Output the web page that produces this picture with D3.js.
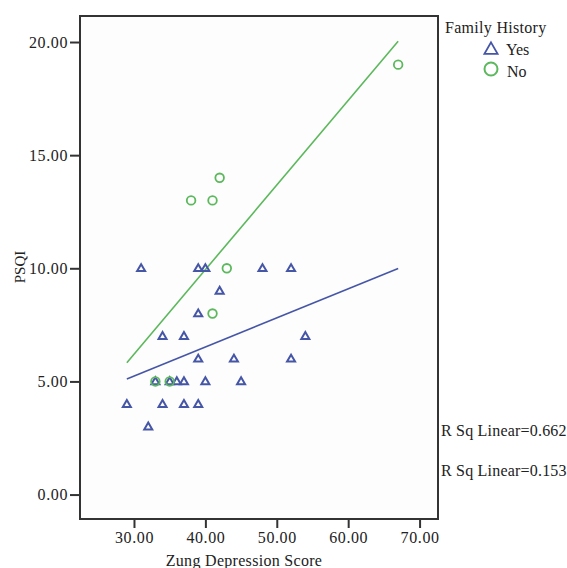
<!DOCTYPE html>
<html>
<head>
<meta charset="utf-8">
<script src="https://cdn.jsdelivr.net/npm/d3@7"></script>
<style>
  body { margin: 0; background: #fff; }
  text { font-family: "Liberation Serif", "DejaVu Serif", serif; fill: #222; }
</style>
</head>
<body>
<svg id="chart" width="567" height="568"></svg>
<script>
// Family History = Yes (triangles)
const yesZung = [31, 39, 40, 48, 52, 42, 39, 34, 37, 54, 39, 44, 52, 33, 35, 36, 37, 40, 45, 29, 34, 37, 39, 32];
const yesPsqi = [10, 10, 10, 10, 10, 9, 8, 7, 7, 7, 6, 6, 6, 5, 5, 5, 5, 5, 5, 4, 4, 4, 4, 3];
// Family History = No (circles)
const noZung = [67, 42, 38, 41, 43, 41, 33, 35];
const noPsqi = [19, 14, 13, 13, 10, 8, 5, 5];

const xTicks = [30, 40, 50, 60, 70];
const yTicks = [0, 5, 10, 15, 20];
const rsqLabels = ["R Sq Linear=0.662", "R Sq Linear=0.153"];

const blue = "#4656a6";
const green = "#5cb85c";

const svg = d3.select("#chart");
const plotL = 80, plotR = 438, plotT = 16, plotB = 519;

const x = d3.scaleLinear().domain([22.44, 72.58]).range([plotL, plotR]);
const y = d3.scaleLinear().domain([-1.08, 21.15]).range([plotB, plotT]);

const yes = yesZung.map((v, i) => ({ x: v, y: yesPsqi[i] }));
const no = noZung.map((v, i) => ({ x: v, y: noPsqi[i] }));

// least squares fit, drawn across the full x range of all points
const xExt = d3.extent(yesZung.concat(noZung));
function fitLine(pts) {
    const mx = d3.mean(pts, d => d.x), my = d3.mean(pts, d => d.y);
    let sxy = 0, sxx = 0;
    pts.forEach(d => { sxy += (d.x - mx) * (d.y - my); sxx += (d.x - mx) ** 2; });
    const b = sxy / sxx;
    return xExt.map(v => ({ x: v, y: my + b * (v - mx) }));
}

// frame
svg.append("rect")
    .attr("x", plotL).attr("y", plotT)
    .attr("width", plotR - plotL).attr("height", plotB - plotT)
    .attr("fill", "#fdfdfd")
    .attr("stroke", "#333").attr("stroke-width", 2);

// axes
const yAxis = svg.append("g")
    .attr("transform", `translate(${plotL},0)`)
    .call(d3.axisLeft(y).tickValues(yTicks).tickFormat(d3.format(".2f")).tickSize(10).tickPadding(2));
const xAxis = svg.append("g")
    .attr("transform", `translate(0,${plotB})`)
    .call(d3.axisBottom(x).tickValues(xTicks).tickFormat(d3.format(".2f")).tickSize(9).tickPadding(4));
[yAxis, xAxis].forEach(g => {
    g.select(".domain").remove();
    g.selectAll(".tick line").attr("stroke", "#333").attr("stroke-width", 2);
    g.selectAll(".tick text")
        .attr("fill", "#222")
        .style("font-family", '"Liberation Serif", serif')
        .style("font-size", "16px")
        .style("letter-spacing", "0.6px");
});

// axis titles
svg.append("text")
    .attr("transform", "translate(25,267) rotate(-90)")
    .attr("text-anchor", "middle")
    .style("font-size", "15px")
    .text("PSQI");
svg.append("text")
    .attr("x", 244).attr("y", 566)
    .attr("text-anchor", "middle")
    .style("font-size", "16px")
    .style("letter-spacing", "0.3px")
    .text("Zung Depression Score");

// fit lines
const line = d3.line().x(d => x(d.x)).y(d => y(d.y));
svg.append("path").datum(fitLine(no))
    .attr("d", line).attr("fill", "none")
    .attr("stroke", green).attr("stroke-width", 1.6);
svg.append("path").datum(fitLine(yes))
    .attr("d", line).attr("fill", "none")
    .attr("stroke", blue).attr("stroke-width", 1.6);

// points
const tri = d3.symbol().type(d3.symbolTriangle).size(28);
svg.selectAll(".yes")
    .data(yes)
    .enter()
    .append("path")
    .attr("class", "yes")
    .attr("d", tri)
    .attr("transform", d => `translate(${x(d.x)},${y(d.y) + 0.5})`)
    .attr("fill", "none")
    .attr("stroke", blue)
    .attr("stroke-width", 2);

svg.selectAll(".no")
    .data(no)
    .enter()
    .append("circle")
    .attr("class", "no")
    .attr("cx", d => x(d.x))
    .attr("cy", d => y(d.y))
    .attr("r", 4.3)
    .attr("fill", "none")
    .attr("stroke", green)
    .attr("stroke-width", 1.8);

// legend
svg.append("text")
    .attr("x", 445).attr("y", 33)
    .style("font-size", "16px")
    .style("letter-spacing", "0.3px")
    .text("Family History");
svg.append("path")
    .attr("d", d3.symbol().type(d3.symbolTriangle).size(75))
    .attr("transform", "translate(491,50)")
    .attr("fill", "none").attr("stroke", blue).attr("stroke-width", 1.8);
svg.append("text")
    .attr("x", 506).attr("y", 55)
    .style("font-size", "16px")
    .text("Yes");
svg.append("circle")
    .attr("cx", 491).attr("cy", 69).attr("r", 6.5)
    .attr("fill", "none").attr("stroke", green).attr("stroke-width", 2);
svg.append("text")
    .attr("x", 507).attr("y", 77)
    .style("font-size", "16px")
    .text("No");

// R squared labels
svg.selectAll(".rsq")
    .data(rsqLabels)
    .enter()
    .append("text")
    .attr("class", "rsq")
    .attr("x", 441)
    .attr("y", (d, i) => 436 + i * 40)
    .style("font-size", "16px")
    .style("letter-spacing", "0.2px")
    .text(d => d);
</script>
</body>
</html>
